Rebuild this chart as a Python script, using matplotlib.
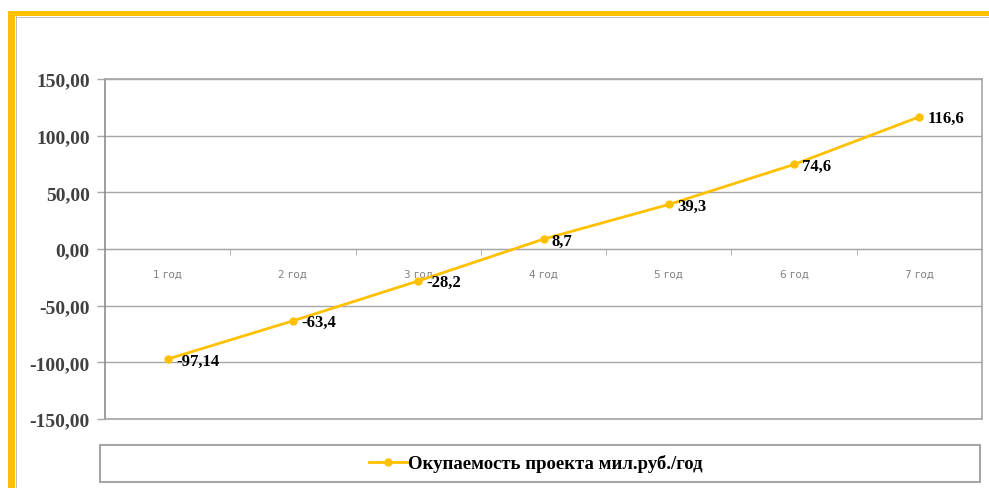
import matplotlib.pyplot as plt
from matplotlib.patches import Rectangle
from matplotlib.ticker import FixedLocator, FuncFormatter

# data
years = ["1 год", "2 год", "3 год", "4 год", "5 год", "6 год", "7 год"]
payback = [-97.14, -63.4, -28.2, 8.7, 39.3, 74.6, 116.6]
labels = ["-97,14", "-63,4", "-28,2", "8,7", "39,3", "74,6", "116,6"]
series_name = "Окупаемость проекта мил.руб./год"

gold = "#FFC000"
grid_gray = "#A6A6A6"
serif = ["Liberation Serif", "DejaVu Serif"]

fig = plt.figure(figsize=(9.89, 4.89), dpi=100)
ax = fig.add_axes([105 / 989, 1 - 420 / 489, 877 / 989, 340 / 489])

x = list(range(len(years)))
line, = ax.plot(x, payback, color=gold, lw=2, marker="o", ms=5,
                label=series_name, zorder=3)

# data labels to the right of each point
for xi, yi, lab in zip(x, payback, labels):
    ax.annotate(lab, (xi, yi), xytext=(6, -1), textcoords="offset points",
                ha="left", va="center", fontsize=12, fontweight="bold",
                family=serif, color="black", zorder=4)

ax.set_xlim(-0.5, len(years) - 0.5)
ax.set_ylim(-150, 150)
ax.set_yticks(range(-150, 151, 50))
ax.yaxis.set_major_formatter(FuncFormatter(lambda v, p: f"{v:.2f}".replace(".", ",")))
for t in ax.get_yticklabels():
    t.set_fontfamily(serif)
    t.set_fontweight("bold")
    t.set_fontsize(14)
    t.set_color("#404040")
ax.tick_params(axis="y", length=6, width=1, color=grid_gray, pad=5)
ax.grid(axis="y", color=grid_gray, lw=1)
ax.set_axisbelow(True)

# category axis sits at zero
ax.set_xticks([])
sec = ax.secondary_xaxis(0.5)
sec.xaxis.set_ticks_position("bottom")
sec.set_xticks(x)
sec.set_xticklabels(years, fontsize=7.5, color="#808080")
sec.tick_params(axis="x", which="major", length=0, pad=14,
                labelbottom=True, labeltop=False)
sec.xaxis.set_minor_locator(FixedLocator([i + 0.5 for i in x[:-1]]))
sec.tick_params(axis="x", which="minor", length=4, color=grid_gray,
                bottom=True, top=False)
for s in sec.spines.values():
    s.set_color(grid_gray)

for s in ax.spines.values():
    s.set_color(grid_gray)
    s.set_linewidth(1.2)
ax.spines["left"].set_color("#8C8C8C")

# legend box
fig.add_artist(Rectangle((100 / 989, 1 - 483 / 489), 880 / 989, 37 / 489,
                         transform=fig.transFigure, fill=False,
                         edgecolor=grid_gray, lw=1.5))
fig.legend(handles=[line], loc="center",
           bbox_to_anchor=(536 / 989, 1 - 464.5 / 489), frameon=False,
           prop={"family": serif, "weight": "bold", "size": 13.5},
           handlelength=2.0, handletextpad=0.1)

# outer gold frame on the left and top
fig.add_artist(Rectangle((16 / 989, 1 - 19 / 489), 973 / 989, 1.2 / 489,
                         transform=fig.transFigure, color="#BFBFBF", lw=0))
fig.add_artist(Rectangle((16 / 989, 0), 1.2 / 989, 1 - 17 / 489,
                         transform=fig.transFigure, color="#BFBFBF", lw=0))
fig.add_artist(Rectangle((8 / 989, 1 - 17 / 489), 981 / 989, 5 / 489,
                         transform=fig.transFigure, color=gold, lw=0))
fig.add_artist(Rectangle((8 / 989, 0), 7 / 989, 1 - 12 / 489,
                         transform=fig.transFigure, color=gold, lw=0))

fig.savefig("out.png", dpi=100)
